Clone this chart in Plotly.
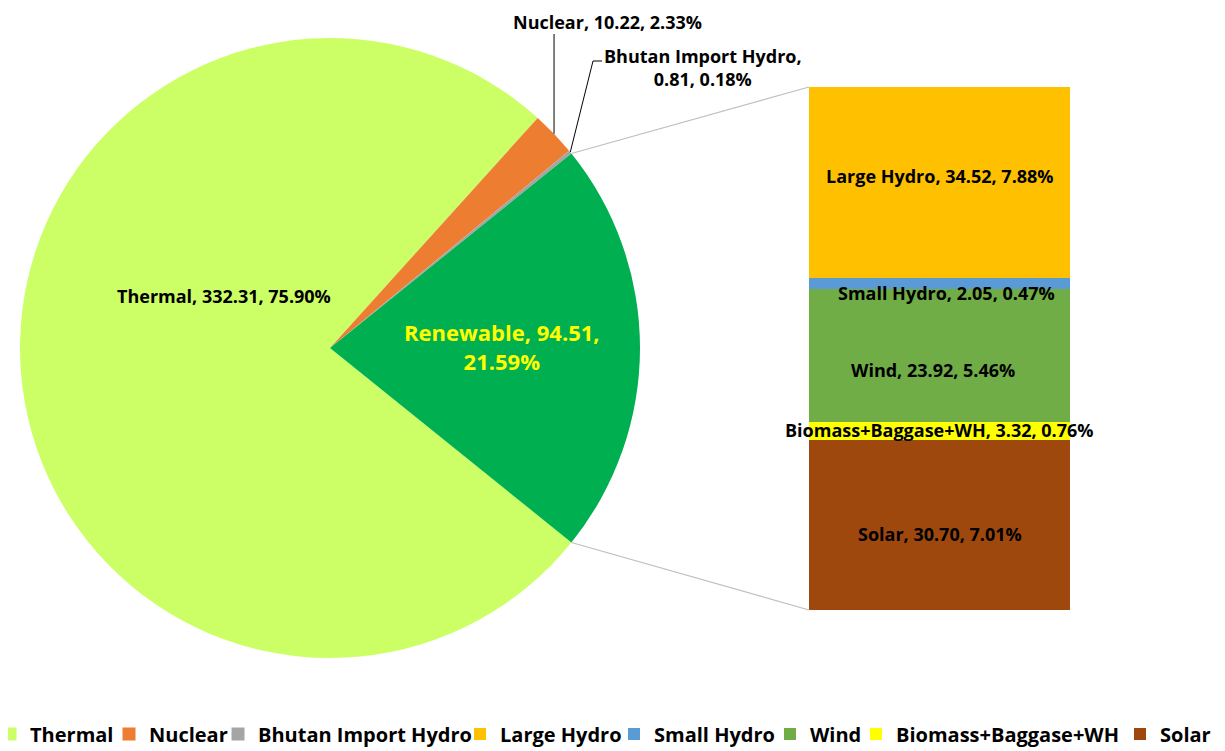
import math
import plotly.graph_objects as go

# page body has an 8px margin: figure pixel = window pixel - OFF
OFF = 8
W, H = 1225 - OFF, 751 - OFF

# ---- data ----
pie_labels = ["Thermal", "Nuclear", "Bhutan Import Hydro", "Renewable"]
pie_values = [332.31, 10.22, 0.81, 94.51]
pie_pcts = ["75.90%", "2.33%", "0.18%", "21.59%"]
pie_colors = ["#CCFF66", "#ED7D31", "#A5A5A5", "#00B050"]

ren_labels = ["Large Hydro", "Small Hydro", "Wind", "Biomass+Baggase+WH", "Solar"]  # top -> bottom
ren_values = [34.52, 2.05, 23.92, 3.32, 30.70]
ren_pcts = ["7.88%", "0.47%", "5.46%", "0.76%", "7.01%"]
ren_colors = ["#FFC000", "#5B9BD5", "#70AD47", "#FFFF00", "#9E480E"]

# ---- layout / styling (window pixels) ----
FONT = "Open Sans, Noto Sans, sans-serif"
PIE_X0, PIE_X1, PIE_Y0, PIE_Y1 = 20, 640, 38, 658
BAR_X0, BAR_X1, BAR_Y0, BAR_Y1 = 809, 1070, 87, 610
bar_label_shift = [(0, 7), (7, -9), (-7, -14), (0, 1), (0, -9)]  # (xshift, yshift) px
legend_text_x = [28, 147, 256, 498, 652, 808, 894, 1158]
LEGEND_Y = 734


def px(x):
    return (x - OFF) / W


def py(y):
    return 1 - (y - OFF) / H


cx, cy = (PIE_X0 + PIE_X1) / 2, (PIE_Y0 + PIE_Y1) / 2
R = (PIE_X1 - PIE_X0) / 2

total = sum(pie_values)
ren_frac = pie_values[-1] / total
rotation = 90 + ren_frac * 180  # renewable slice centred at 3 o'clock

legend_names = ["legend"] + [f"legend{k}" for k in range(2, 9)]

fig = go.Figure()

fig.add_trace(go.Pie(
    labels=pie_labels, values=pie_values, sort=False, direction="clockwise",
    rotation=rotation, marker=dict(colors=pie_colors, line=dict(width=0)),
    textinfo="none", hoverinfo="label+value+percent", showlegend=False,
    domain=dict(x=[px(PIE_X0), px(PIE_X1)], y=[py(PIE_Y1), py(PIE_Y0)]),
))

# legend-only entries for the pie categories
for i in range(3):
    fig.add_trace(go.Scatter(
        x=[None], y=[None], mode="markers", name=pie_labels[i],
        marker=dict(symbol="square", size=13, color=pie_colors[i]),
        legend=legend_names[i], xaxis="x", yaxis="y", hoverinfo="skip",
    ))

# stacked bar (bottom -> top)
n = len(ren_labels)
for j in reversed(range(n)):
    fig.add_trace(go.Bar(
        x=[0], y=[ren_values[j]], name=ren_labels[j], width=1,
        marker=dict(color=ren_colors[j], line=dict(width=0)),
        legend=legend_names[3 + j], hoverinfo="name+y",
    ))

ren_total = sum(ren_values)

annotations = []
lab_font = dict(family=FONT, size=18, color="black", weight="bold")

# bar labels
cum = 0
mids = {}
for j in reversed(range(n)):
    mids[j] = cum + ren_values[j] / 2
    cum += ren_values[j]
for j in range(n):
    annotations.append(dict(
        x=0, y=mids[j], xref="x", yref="y", showarrow=False,
        xanchor="center", yanchor="middle",
        text=f"{ren_labels[j]}, {ren_values[j]:.2f}, {ren_pcts[j]}",
        font=lab_font, xshift=bar_label_shift[j][0], yshift=bar_label_shift[j][1],
    ))

# pie labels
pie_ann = dict(xref="paper", yref="paper", showarrow=False, xanchor="center", yanchor="middle",
               align="center")
annotations.append(dict(pie_ann, x=px(224), y=py(296),
                        text=f"{pie_labels[0]}, {pie_values[0]:.2f}, {pie_pcts[0]}", font=lab_font))
annotations.append(dict(pie_ann, x=px(502), y=py(346),
                        text=f"{pie_labels[3]}, {pie_values[3]:.2f},<br>{pie_pcts[3]}",
                        font=dict(family=FONT, size=22, color="#FFFF00", weight="bold")))
annotations.append(dict(pie_ann, x=px(607), y=py(22),
                        text=f"{pie_labels[1]}, {pie_values[1]:.2f}, {pie_pcts[1]}", font=lab_font))
annotations.append(dict(pie_ann, x=px(703), y=py(67),
                        text=f"{pie_labels[2]},<br>{pie_values[2]:.2f}, {pie_pcts[2]}", font=lab_font))

shapes = []


def arc_point(angle_deg):
    a = math.radians(angle_deg)
    return cx + R * math.sin(a), cy - R * math.cos(a)


# slice angles (clockwise from 12 o'clock)
angles = []
a = rotation
for v in pie_values:
    span = v / total * 360
    angles.append((a, a + span))
    a += span

p_top = arc_point(angles[3][0])
p_bot = arc_point(angles[3][1])

shapes.append(dict(type="line", xref="paper", yref="paper",
                   x0=px(p_top[0]), y0=py(p_top[1]), x1=px(BAR_X0), y1=py(BAR_Y0),
                   line=dict(color="#BFBFBF", width=1.2)))
shapes.append(dict(type="line", xref="paper", yref="paper",
                   x0=px(p_bot[0]), y0=py(p_bot[1]), x1=px(BAR_X0), y1=py(BAR_Y1),
                   line=dict(color="#BFBFBF", width=1.2)))

# leader lines
nuc_mid = arc_point(sum(angles[1]) / 2)
shapes.append(dict(type="line", xref="paper", yref="paper",
                   x0=px(nuc_mid[0]), y0=py(nuc_mid[1]), x1=px(nuc_mid[0]), y1=py(34),
                   line=dict(color="black", width=1)))
bhu_mid = arc_point(sum(angles[2]) / 2)
shapes.append(dict(type="path", xref="paper", yref="paper",
                   path=f"M {px(bhu_mid[0])},{py(bhu_mid[1])} L {px(593)},{py(61)} L {px(602)},{py(61)}",
                   line=dict(color="black", width=1)))

legend_font = dict(family=FONT, size=20, color="black", weight="bold")
legends = {}
for k, name in enumerate(legend_names):
    legends[name] = dict(
        orientation="h", x=px(legend_text_x[k] - 38), xanchor="left",
        y=py(LEGEND_Y), yanchor="middle", font=legend_font,
        itemwidth=30, bgcolor="rgba(0,0,0,0)", borderwidth=0,
    )

fig.update_layout(
    width=W, height=H, margin=dict(l=0, r=0, t=0, b=0, autoexpand=False),
    paper_bgcolor="white", plot_bgcolor="rgba(0,0,0,0)",
    barmode="stack", bargap=0,
    xaxis=dict(domain=[px(BAR_X0), px(BAR_X1)], range=[-0.5, 0.5], visible=False, fixedrange=True),
    yaxis=dict(domain=[py(BAR_Y1), py(BAR_Y0)], range=[0, ren_total], visible=False, fixedrange=True),
    showlegend=True,
    annotations=annotations, shapes=shapes,
    font=dict(family=FONT),
    **legends,
)

fig.write_html("out.html")
